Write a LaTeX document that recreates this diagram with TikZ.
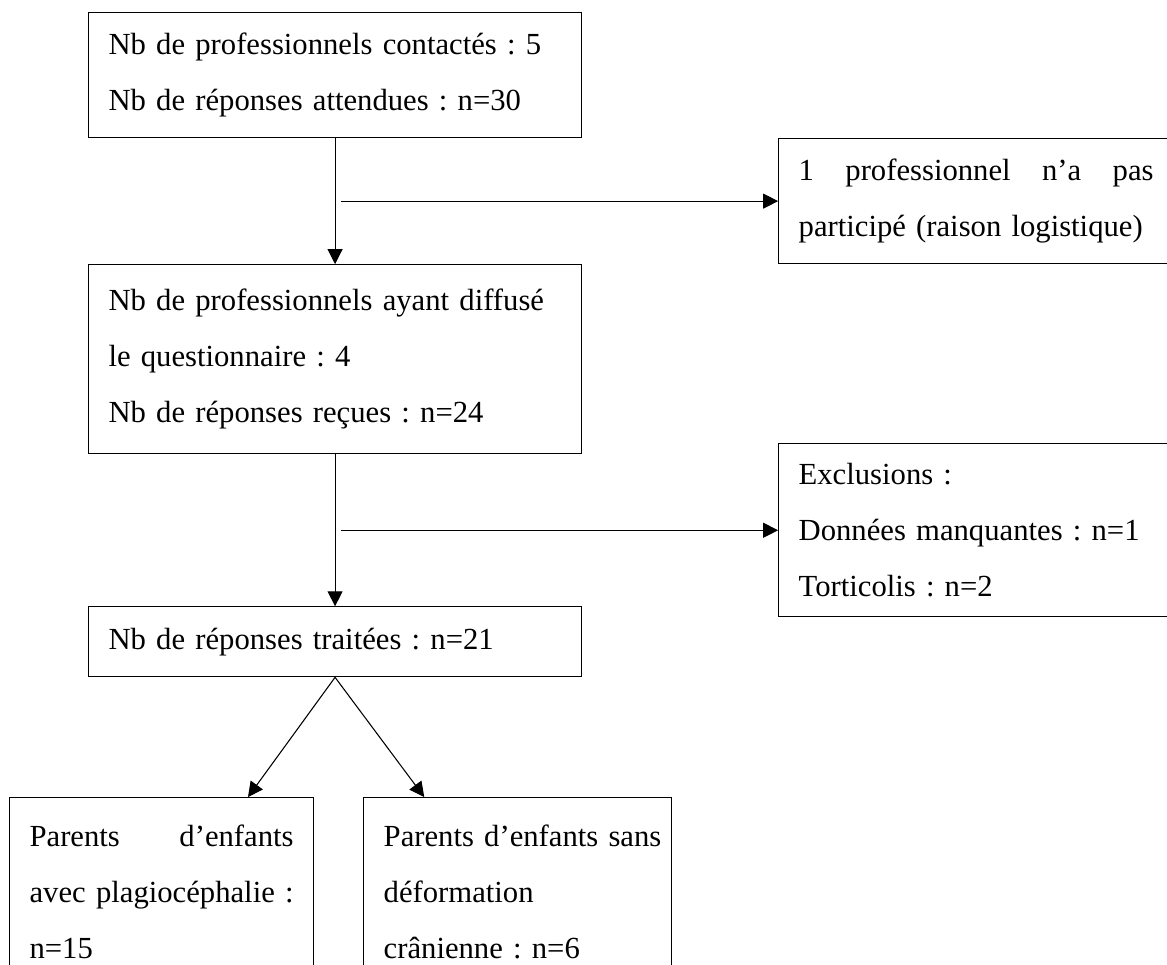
\documentclass[tikz,border=0pt]{standalone}
\usepackage{fontspec}
\setmainfont{Liberation Serif}
\usetikzlibrary{positioning,calc,arrows.meta}

\begin{document}
\begin{tikzpicture}[>={Triangle[length=5.6pt,width=5.6pt]},
                    box/.style={rectangle,draw,anchor=north west,inner xsep=7.5pt,inner ysep=0pt,
                                align=left,font=\fontsize{11.5}{21}\selectfont\frenchspacing},
                    wide box/.style={box,text width=169.9pt},
                    side box/.style={box,text width=133.1pt}]

  \useasboundingbox (0,0) rectangle (437.625pt,-361.875pt);
  \clip (0,0) rectangle (437.625pt,-361.875pt);

  \node[wide box,minimum height=46.9pt] (contact) at (33pt,-4.5pt)
    {Nb de professionnels contactés : 5\\Nb de réponses attendues : n=30};
  \node[wide box,minimum height=70.9pt] (diffusion) [below=47.25pt of contact]
    {\mbox{Nb de professionnels ayant diffusé}\\le questionnaire : 4\\Nb de réponses reçues : n=24};
  \node[wide box,minimum height=26.25pt] (traitees) [below=57pt of diffusion]
    {Nb de réponses traitées : n=21};
  \node[side box,minimum height=46.9pt] (nonpart) [below right=0pt and 73.5pt of contact]
    {1\nobreak\hfill professionnel\nobreak\hfill n’a\nobreak\hfill pas\\\mbox{participé (raison logistique)}};
  \node[side box,minimum height=64.9pt] (exclusions) [below right=-4.125pt and 73.5pt of diffusion]
    {Exclusions :\\\mbox{Données manquantes : n=1}\\Torticolis : n=2};
  \node[box,text width=99pt,minimum height=70.9pt] (plagio) at (3.4pt,-298.9pt)
    {Parents\nobreak\hfill d’enfants\\avec\nobreak\hfill\mbox{plagiocéphalie :}\\n=15};
  \node[box,text width=100.5pt,minimum height=70.9pt] (sans) [right=18.4pt of plagio]
    {\mbox{Parents d’enfants sans}\\déformation\\crânienne : n=6};

  % side branches start just right of the main line
  \coordinate (split1) at ($(contact.south)!.5!(diffusion.north)+(2.25pt,0)$);
  \coordinate (split2) at ($(diffusion.south)!.5!(traitees.north)+(2.25pt,0)$);

  \path[->]
    (contact) edge (diffusion)
    (diffusion) edge (traitees);
  \draw[->] (split1) -- (split1 -| nonpart.west);
  \draw[->] (split2) -- (split2 -| exclusions.west);
  \draw[->] (traitees.south) -- ([xshift=89.6pt]plagio.north west);
  \draw[->] (traitees.south) -- ([xshift=22.9pt]sans.north west);
\end{tikzpicture}
\end{document}
